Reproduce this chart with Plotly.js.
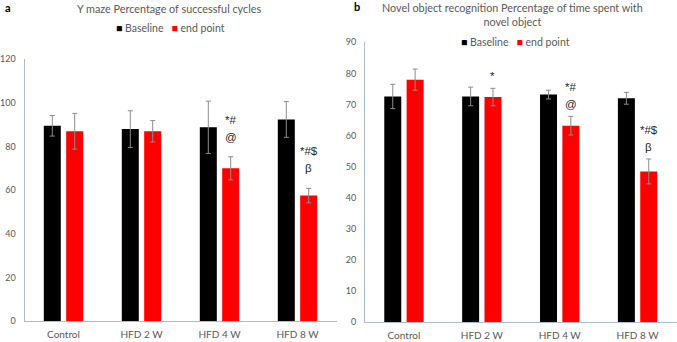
<!DOCTYPE html>
<html>
<head>
<meta charset="utf-8">
<script src="https://cdn.plot.ly/plotly-3.0.1.min.js"></script>
<style>
  html, body { margin: 0; padding: 0; background: #ffffff; }
  #chart { width: 677px; height: 342px; }
</style>
</head>
<body>
<div id="chart"></div>
<script>
// Groups and series
const categories = ['Control', 'HFD 2 W', 'HFD 4 W', 'HFD 8 W'];
const seriesNames = ['Baseline', 'end point'];
const seriesColors = ['#000000', '#FF0000'];

// (a) Y maze: percentage of successful cycles (mean, SD)
const ymazeBaseline = [89.5, 88.0, 88.8, 92.4];
const ymazeBaselineSD = [4.7, 8.4, 12.0, 8.2];
const ymazeEndpoint = [87.0, 87.0, 70.0, 57.5];
const ymazeEndpointSD = [8.2, 4.9, 5.3, 3.3];
const ymazeMarks = [[], [], ['*#', '@'], ['*#$', 'β']];

// (b) Novel object recognition: percentage of time with novel object
const norBaseline = [72.6, 72.6, 73.2, 72.0];
const norBaselineSD = [3.9, 3.0, 1.4, 1.9];
const norEndpoint = [78.0, 72.4, 63.2, 48.5];
const norEndpointSD = [3.4, 2.8, 3.0, 4.0];
const norMarks = [[], ['*'], ['*#', '@'], ['*#$', 'β']];

const FONT = 'Lato, "Open Sans", sans-serif';
const MARK_FONT = '"Liberation Sans", Arial, sans-serif';
const GREY = '#595959';
const AXIS = '#A9BCD0';

function barTrace(values, sd, i, xa, ya) {
  return {
    type: 'bar',
    name: seriesNames[i],
    x: categories,
    y: values,
    xaxis: xa,
    yaxis: ya,
    marker: { color: seriesColors[i], line: { width: 0 } },
    error_y: { type: 'data', array: sd, visible: true, color: '#8C8C8C', thickness: 1, width: 2.5 },
    showlegend: false,
    hoverinfo: 'x+y'
  };
}

const data = [
  barTrace(ymazeBaseline, ymazeBaselineSD, 0, 'x', 'y'),
  barTrace(ymazeEndpoint, ymazeEndpointSD, 1, 'x', 'y'),
  barTrace(norBaseline, norBaselineSD, 0, 'x2', 'y2'),
  barTrace(norEndpoint, norEndpointSD, 1, 'x2', 'y2')
];

// significance symbols stacked above the end-point error bars
function markAnnotations(marks, values, sd, xa, ya, shifts) {
  const out = [];
  marks.forEach((lines, k) => {
    const n = lines.length;
    lines.forEach((txt, j) => {
      const shift = n === 1 ? shifts.single : shifts.lines[j];
      out.push({
        xref: xa, yref: ya, x: categories[k], y: values[k] + sd[k],
        xshift: 11, yshift: shift, yanchor: 'middle', xanchor: 'center',
        text: txt, showarrow: false,
        font: { family: MARK_FONT, size: 11.5, color: '#262626' }
      });
    });
  });
  return out;
}

// legend rows drawn as coloured squares followed by the series names
function legendText() {
  return seriesNames.map((n, i) =>
    '<span style="color:' + seriesColors[i] + '">■</span> ' + n).join('   ');
}

const annotations = [
  { xref: 'paper', yref: 'paper', x: 8 / 677, y: 1 - 7 / 342, xanchor: 'center', yanchor: 'middle',
    text: '<b>a</b>', showarrow: false, font: { family: FONT, size: 11, color: '#000000' } },
  { xref: 'paper', yref: 'paper', x: 357 / 677, y: 1 - 6 / 342, xanchor: 'center', yanchor: 'middle',
    text: '<b>b</b>', showarrow: false, font: { family: FONT, size: 11, color: '#000000' } },
  { xref: 'paper', yref: 'paper', x: 169 / 677, y: 1 - 8 / 342, xanchor: 'center', yanchor: 'middle',
    text: 'Y maze Percentage of successful cycles', showarrow: false,
    font: { family: FONT, size: 10.8, color: GREY } },
  { xref: 'paper', yref: 'paper', x: 512 / 677, y: 1 - 14.5 / 342, xanchor: 'center', yanchor: 'middle',
    text: 'Novel object recognition Percentage of time spent with<br>novel object', showarrow: false,
    font: { family: FONT, size: 10.8, color: GREY } },
  { xref: 'paper', yref: 'paper', x: 170 / 677, y: 1 - 28 / 342, xanchor: 'center', yanchor: 'middle',
    text: legendText(), showarrow: false, font: { family: FONT, size: 10.5, color: GREY } },
  { xref: 'paper', yref: 'paper', x: 515 / 677, y: 1 - 42 / 342, xanchor: 'center', yanchor: 'middle',
    text: legendText(), showarrow: false, font: { family: FONT, size: 10.5, color: GREY } }
].concat(
  markAnnotations(ymazeMarks, ymazeEndpoint, ymazeEndpointSD, 'x', 'y', { lines: [37, 20], single: 15 }),
  markAnnotations(norMarks, norEndpoint, norEndpointSD, 'x2', 'y2', { lines: [29, 12], single: 12 })
);

function xAxis(domain, anchor) {
  return {
    domain: domain, anchor: anchor, showline: true, linecolor: AXIS, linewidth: 1,
    showgrid: false, zeroline: false, ticks: '', ticklabelstandoff: 4,
    tickfont: { family: FONT, size: 10, color: GREY }, fixedrange: true
  };
}
function yAxis(domain, anchor, range, dtick) {
  return {
    domain: domain, anchor: anchor, range: range, dtick: dtick, showline: true,
    linecolor: AXIS, linewidth: 1, showgrid: false, zeroline: false, ticks: '',
    ticklabelstandoff: 6, tickfont: { family: FONT, size: 9, color: GREY }, fixedrange: true
  };
}

const layout = {
  width: 677, height: 342,
  margin: { l: 0, r: 0, t: 0, b: 0 },
  paper_bgcolor: '#ffffff', plot_bgcolor: '#ffffff',
  barmode: 'group', bargap: 0.426, bargroupgap: 0.24,
  showlegend: false,
  xaxis: xAxis([24.5 / 677, 336.5 / 677], 'y'),
  yaxis: yAxis([1 - 321 / 342, 1 - 59.3 / 342], 'x', [0, 120], 20),
  xaxis2: xAxis([365 / 677, 676.5 / 677], 'y2'),
  yaxis2: yAxis([1 - 322.3 / 342, 1 - 42.3 / 342], 'x2', [0, 90], 10),
  annotations: annotations
};

Plotly.newPlot('chart', data, layout, { displayModeBar: false, staticPlot: true });
</script>
</body>
</html>
